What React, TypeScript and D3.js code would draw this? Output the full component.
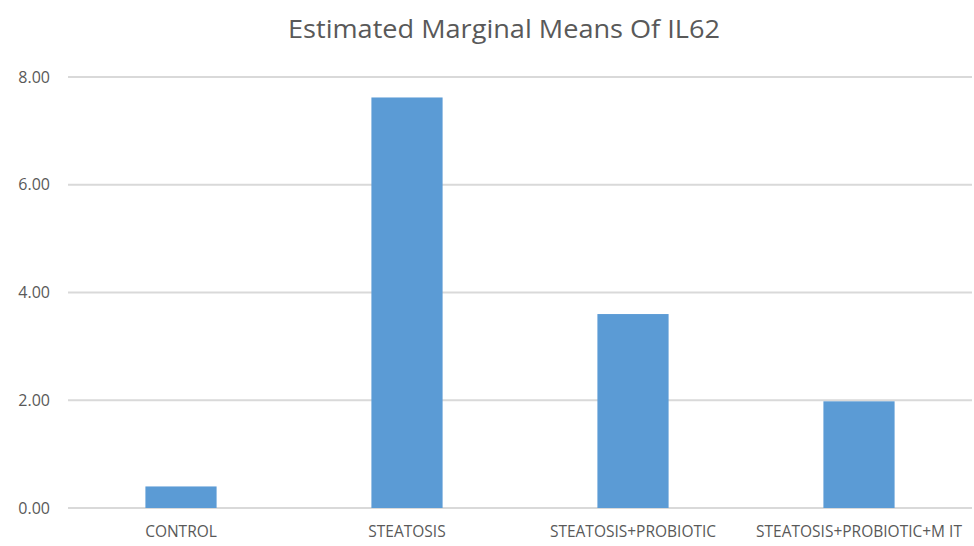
import React from "react";
import * as d3 from "d3";

const categories = ["CONTROL", "STEATOSIS", "STEATOSIS+PROBIOTIC", "STEATOSIS+PROBIOTIC+M IT"];
const values = [0.4, 7.62, 3.6, 1.98];
const yTicks = [0, 2, 4, 6, 8];
const title = "Estimated Marginal Means Of IL62";

export default function App() {
  const W = 974, H = 546;
  const left = 68, right = 972, top = 77, bottom = 508;
  const x = d3.scaleBand<string>().domain(categories).range([left, right]).paddingInner(0.685).paddingOuter(0.3425);
  const y = d3.scaleLinear().domain([0, 8]).range([bottom, top]);
  const font = "'Open Sans', 'Liberation Sans', sans-serif";
  return (
    <svg width={W} height={H} style={{ position: "absolute", left: 0, top: 0, background: "#fff" }}>
      <text x={504} y={38} textAnchor="middle" fontFamily={font} fontSize={25} fill="#595959" textLength={432} lengthAdjust="spacingAndGlyphs">{title}</text>
      {yTicks.map(t => (
        <g key={t}>
          <line x1={left} x2={right} y1={y(t)} y2={y(t)} stroke="#d9d9d9" strokeWidth={2} />
          <text x={50} y={y(t)} dy="0.35em" textAnchor="end" fontFamily={font} fontSize={16} fill="#595959">{d3.format(".2f")(t)}</text>
        </g>
      ))}
      {categories.map((c, i) => (
        <rect key={c} x={x(c)} y={y(values[i])} width={x.bandwidth()} height={y(0) - y(values[i])} fill="#5b9bd5" />
      ))}
      {categories.map(c => (
        <text key={c} x={(x(c) as number) + x.bandwidth() / 2} y={537} textAnchor="middle" fontFamily={font} fontSize={15.5} fill="#595959">{c}</text>
      ))}
    </svg>
  );
}
